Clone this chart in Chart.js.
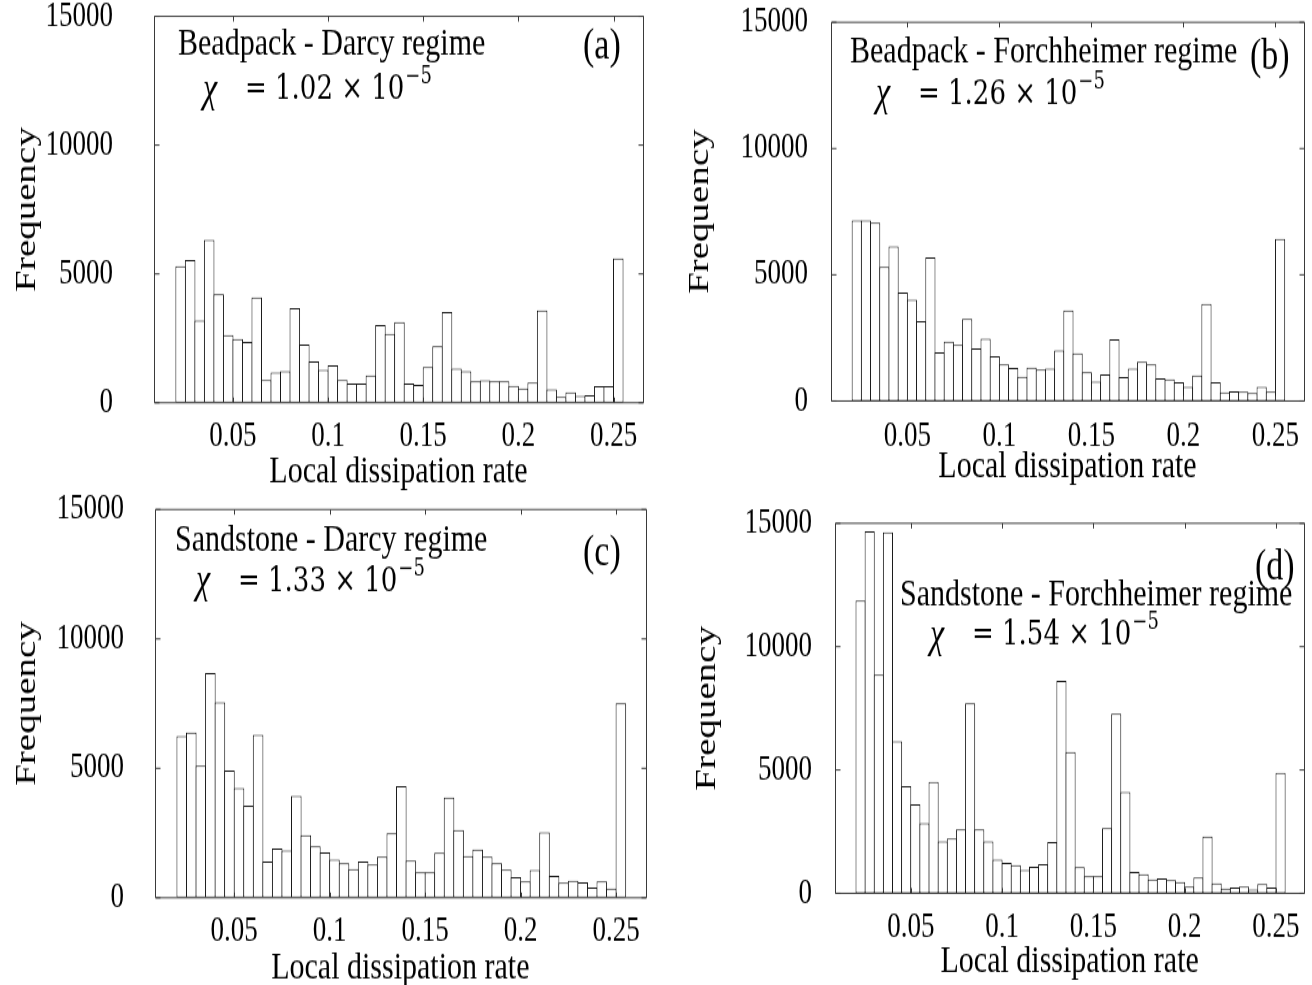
<!DOCTYPE html>
<html><head><meta charset="utf-8">
<script src="https://cdn.jsdelivr.net/npm/chart.js@4.4.1/dist/chart.umd.min.js"></script>
<style>
html,body{margin:0;padding:0;background:#fff;}
body{width:1312px;height:985px;position:relative;overflow:hidden;}
canvas{position:absolute;display:block;}
</style></head><body>
<canvas id="c0" width="656" height="380" style="left:0;top:0;width:656px;height:494px"></canvas>
<canvas id="c1" width="656" height="380" style="left:656px;top:0;width:656px;height:494px"></canvas>
<canvas id="c2" width="656" height="380" style="left:0;top:491px;width:656px;height:494px"></canvas>
<canvas id="c3" width="656" height="380" style="left:656px;top:491px;width:656px;height:494px"></canvas>
<script>
// ---- data ----
const binCenters = [0.0225,0.0275,0.0325,0.0375,0.0425,0.0475,0.0525,0.0575,0.0625,0.0675,
  0.0725,0.0775,0.0825,0.0875,0.0925,0.0975,0.1025,0.1075,0.1125,0.1175,
  0.1225,0.1275,0.1325,0.1375,0.1425,0.1475,0.1525,0.1575,0.1625,0.1675,
  0.1725,0.1775,0.1825,0.1875,0.1925,0.1975,0.2025,0.2075,0.2125,0.2175,
  0.2225,0.2275,0.2325,0.2375,0.2425,0.2475,0.2525];
const beadpackDarcy = [5300,5540,3190,6320,4220,2630,2480,2360,4090,880,
  1180,1220,3670,2260,1600,1280,1450,880,740,740,
  1060,3010,2670,3130,740,700,1390,2190,3520,1320,
  1220,830,870,830,830,660,550,780,3590,520,
  230,400,260,290,650,650,5600];
const beadpackForchheimer = [7150,7160,7060,5320,6130,4300,4010,3170,5690,1930,
  2350,2220,3260,2080,2470,1770,1450,1310,960,1320,
  1250,1290,2010,3590,1890,1150,770,1060,2450,950,
  1280,1560,1450,900,860,740,570,1020,3850,750,
  340,380,370,320,570,370,6420];
const sandstoneDarcy = [6250,6380,5100,8680,7550,4920,4240,3560,6300,1400,
  1900,1820,3940,2410,1990,1750,1480,1330,1110,1400,
  1280,1590,2490,4310,1440,990,990,1740,3870,2620,
  1610,1860,1590,1330,1080,790,630,1070,2530,850,
  580,660,590,400,630,360,7520];
const sandstoneForchheimer = [11870,14670,8860,14630,6170,4340,3610,2850,4520,2100,
  2220,2600,7710,2600,2100,1370,1230,1150,950,1080,
  1190,2080,8610,5730,1070,690,700,2640,7290,4110,
  870,770,570,610,540,460,280,640,2310,410,
  200,240,270,160,380,240,4890];
const xTickValues = [0.05, 0.1, 0.15, 0.2, 0.25];
const xTickLabels = ['0.05', '0.1', '0.15', '0.2', '0.25'];
const yTickValues = [0, 5000, 10000, 15000];
const yTickLabels = ['0', '5000', '10000', '15000'];
const panelTitles = ['Beadpack - Darcy regime', 'Beadpack - Forchheimer regime',
  'Sandstone - Darcy regime', 'Sandstone - Forchheimer regime'];
const panelTags = ['(a)', '(b)', '(c)', '(d)'];
const chiValues = ['1.02', '1.26', '1.33', '1.54'];
const chiExponent = '\u22125';
const xTitle = 'Local dissipation rate';
const yTitle = 'Frequency';
const xRange = [0.0085, 0.2655];
const yRange = [0, 15000];
const seriesList = [beadpackDarcy, beadpackForchheimer, sandstoneDarcy, sandstoneForchheimer];

// ---- layout ----
// canvases are drawn 380px tall and displayed 494px tall (vertical stretch S)
const S = 494 / 380;
const SERIF = '"Liberation Serif", "Times New Roman", serif';
const MATH = '"DejaVu Serif", serif';
// page coordinates (px) of each plot box and text item
const layouts = [
  {ox:0, oy:0, box:[154, 16.3, 643, 402.7], xLab:437, xTit:472, yLabR:113, yTitX:27,
   title:[178,45], chi:[203,90], eq:245, tag:[583,47]},
  {ox:656, oy:0, box:[831, 22.3, 1304, 401], xLab:437, xTit:467, yLabR:808, yTitX:700,
   title:[850,52], chi:[876,95], eq:918, tag:[1250,57]},
  {ox:0, oy:491, box:[155, 509.5, 645.7, 897.7], xLab:931, xTit:968, yLabR:124, yTitX:27,
   title:[175,541], chi:[196,582], eq:238, tag:[583,553]},
  {ox:656, oy:491, box:[835, 523.3, 1304.3, 893.3], xLab:928, xTit:962, yLabR:812, yTitX:707,
   title:[900,595], chi:[930,636], eq:972, tag:[1255,568]}
];
const TICK_SIZE = 27, TITLE_SIZE = 30;

const framePlugin = {
  id: 'frame',
  afterDatasetsDraw(chart) {
    const {ctx, chartArea: a, scales: {x, y}} = chart;
    const L = chart.options.plugins.frame.layout;
    const idx = chart.options.plugins.frame.index;
    const cy = (py) => (py - L.oy) / S;
    ctx.save();
    ctx.strokeStyle = '#3a3a3a';
    ctx.lineWidth = 1;
    const l = Math.round(a.left) + 0.5, r = Math.round(a.right) + 0.5;
    const t = a.top, b = a.bottom;
    ctx.beginPath();
    ctx.moveTo(l, t); ctx.lineTo(r, t); ctx.lineTo(r, b); ctx.lineTo(l, b); ctx.closePath();
    for (const v of yTickValues) {
      const py = y.getPixelForValue(v);
      ctx.moveTo(l, py); ctx.lineTo(l + 5, py);
      ctx.moveTo(r, py); ctx.lineTo(r - 5, py);
    }
    for (const v of xTickValues) {
      const px = Math.round(x.getPixelForValue(v)) + 0.5;
      ctx.moveTo(px, t); ctx.lineTo(px, t + 4);
      ctx.moveTo(px, b); ctx.lineTo(px, b - 4);
    }
    ctx.stroke();
    // annotations
    ctx.fillStyle = '#000';
    ctx.textBaseline = 'middle';
    ctx.textAlign = 'left';
    ctx.font = TITLE_SIZE + 'px ' + SERIF;
    ctx.fillText(panelTitles[idx], L.title[0] - L.ox, cy(L.title[1]));
    ctx.font = '34px ' + SERIF;
    ctx.fillText(panelTags[idx], L.tag[0] - L.ox, cy(L.tag[1]));
    ctx.font = 'italic 32px ' + SERIF;
    ctx.fillText('\u03C7', L.chi[0] - L.ox, cy(L.chi[1]));
    ctx.font = '26px ' + MATH;
    const eqText = '= ' + chiValues[idx] + ' \u00D7 10';
    const ex = L.eq - L.ox, ey = cy(L.chi[1]);
    ctx.fillText(eqText, ex, ey);
    const w = ctx.measureText(eqText).width;
    ctx.font = '18px ' + MATH;
    ctx.fillText(chiExponent, ex + w + 1, ey - 10);
    ctx.restore();
  }
};

seriesList.forEach((vals, i) => {
  const L = layouts[i];
  const cy = (py) => (py - L.oy) / S;
  const H = 380;
  const boxLeft = L.box[0] - L.ox, boxRight = L.box[2] - L.ox;
  const boxTop = cy(L.box[1]), boxBottom = cy(L.box[3]);
  const xH = H - boxBottom;
  const xTickPad = cy(L.xLab) - boxBottom - 0.6 * TICK_SIZE;
  const xTitlePad = H - cy(L.xTit) - 0.6 * TITLE_SIZE;
  const yTickPad = boxLeft - (L.yLabR - L.ox);
  const yTitlePad = (L.yTitX - L.ox) - 0.6 * TITLE_SIZE;
  const pts = binCenters.map((xv, k) => ({x: xv, y: vals[k]}));
  new Chart(document.getElementById('c' + i), {
    type: 'bar',
    data: {datasets: [{
      data: pts,
      backgroundColor: '#ffffff',
      borderColor: '#1a1a1a',
      borderWidth: 1,
      borderSkipped: false,
      inflateAmount: 0,
      barPercentage: 1.108,
      categoryPercentage: 1
    }]},
    options: {
      responsive: false,
      animation: false,
      devicePixelRatio: 1,
      layout: {padding: {left: 0, right: 656 - boxRight, top: boxTop, bottom: 0}},
      plugins: {legend: {display: false}, tooltip: {enabled: false},
        frame: {layout: L, index: i}},
      scales: {
        x: {
          type: 'linear', offset: false, min: xRange[0], max: xRange[1],
          grid: {display: false, drawTicks: false}, border: {display: false},
          afterBuildTicks: (s) => { s.ticks = xTickValues.map(v => ({value: v})); },
          afterFit: (s) => { s.height = xH; s.paddingLeft = 0; s.paddingRight = 0; },
          ticks: {
            padding: xTickPad, color: '#000', maxRotation: 0, autoSkip: false,
            font: {family: SERIF, size: TICK_SIZE},
            callback: (v) => { const k = xTickValues.indexOf(v); return k >= 0 ? xTickLabels[k] : ''; }
          },
          title: {display: true, text: xTitle, color: '#000', font: {family: SERIF, size: TITLE_SIZE},
            padding: {top: 0, bottom: xTitlePad}}
        },
        y: {
          type: 'linear', min: yRange[0], max: yRange[1],
          grid: {display: false, drawTicks: false}, border: {display: false},
          afterBuildTicks: (s) => { s.ticks = yTickValues.map(v => ({value: v})); },
          afterFit: (s) => { s.width = boxLeft; s.paddingTop = 0; s.paddingBottom = 0; },
          ticks: {
            padding: yTickPad, color: '#000', autoSkip: false,
            font: {family: SERIF, size: TICK_SIZE},
            callback: (v) => { const k = yTickValues.indexOf(v); return k >= 0 ? yTickLabels[k] : ''; }
          },
          title: {display: true, text: yTitle, color: '#000', font: {family: SERIF, size: TITLE_SIZE},
            padding: {top: yTitlePad, bottom: 0}}
        }
      }
    },
    plugins: [framePlugin]
  });
});
</script>
</body></html>
